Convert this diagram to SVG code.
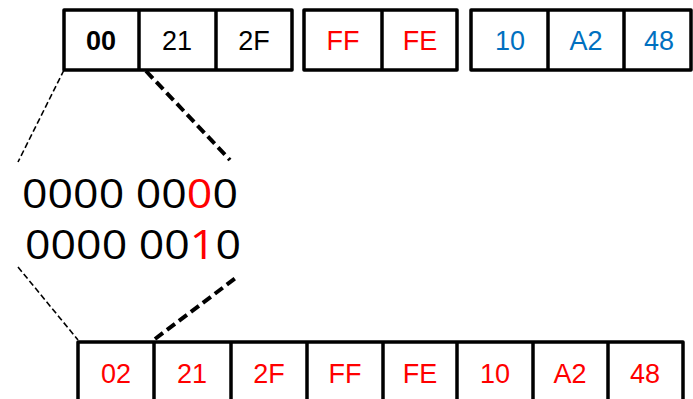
<svg xmlns="http://www.w3.org/2000/svg" width="693" height="399" viewBox="0 0 693 399">
<style>
.box{fill:#fff;stroke:#000;stroke-width:3.5;stroke-linejoin:round}
.div{stroke:#000;stroke-width:3.5}
.t{font-family:"Liberation Sans",Arial,sans-serif;font-size:27px;text-anchor:middle}
.k{fill:#000}.r{fill:#ff0000}.b{fill:#0070c0}
.bin{font-family:"Open Sans","Noto Sans",sans-serif;font-size:41px;fill:#000}
.thin{fill:none;stroke:#000;stroke-width:1.6;stroke-dasharray:6 3}
.thick{fill:none;stroke:#000;stroke-width:4;stroke-dasharray:10 5}
</style>
<rect width="693" height="399" fill="#fff"/>
<g id="connectors">
<line class="thin" x1="64" y1="70" x2="18" y2="162"/>
<line class="thick" x1="146" y1="71" x2="230" y2="160"/>
<line class="thin" x1="18" y1="267" x2="78" y2="340"/>
<line class="thick" x1="155" y1="339" x2="237" y2="277"/>
</g>
<g id="top-group-1">
<rect class="box" x="64" y="10" width="228" height="60"/>
<line class="div" x1="139" y1="10" x2="139" y2="70"/>
<line class="div" x1="216" y1="10" x2="216" y2="70"/>
<text class="t k" x="101" y="50" font-weight="bold">00</text>
<text class="t k" x="177" y="50">21</text>
<text class="t k" x="254" y="50">2F</text>
</g>
<g id="top-group-2">
<rect class="box" x="304" y="10" width="153" height="60"/>
<line class="div" x1="382" y1="10" x2="382" y2="70"/>
<text class="t r" x="343" y="50">FF</text>
<text class="t r" x="420" y="50">FE</text>
</g>
<g id="top-group-3">
<rect class="box" x="471" y="10" width="220" height="60"/>
<line class="div" x1="548" y1="10" x2="548" y2="70"/>
<line class="div" x1="624" y1="10" x2="624" y2="70"/>
<text class="t b" x="510" y="50">10</text>
<text class="t b" x="586" y="50">A2</text>
<text class="t b" x="659" y="50">48</text>
</g>
<g id="binary">
<text class="bin" x="22" y="208" textLength="216" lengthAdjust="spacingAndGlyphs">0000 00<tspan fill="#ff0000">0</tspan>0</text>
<text class="bin" x="25" y="259" textLength="216" lengthAdjust="spacingAndGlyphs">0000 00<tspan fill="#ff0000">1</tspan>0</text>
</g>
<g id="bottom-row">
<rect class="box" x="78" y="342" width="605" height="70"/>
<line class="div" x1="154" y1="342" x2="154" y2="412"/>
<line class="div" x1="231" y1="342" x2="231" y2="412"/>
<line class="div" x1="307" y1="342" x2="307" y2="412"/>
<line class="div" x1="383" y1="342" x2="383" y2="412"/>
<line class="div" x1="457" y1="342" x2="457" y2="412"/>
<line class="div" x1="533" y1="342" x2="533" y2="412"/>
<line class="div" x1="608" y1="342" x2="608" y2="412"/>
<text class="t r" x="116" y="383">02</text>
<text class="t r" x="192" y="383">21</text>
<text class="t r" x="269" y="383">2F</text>
<text class="t r" x="345" y="383">FF</text>
<text class="t r" x="420" y="383">FE</text>
<text class="t r" x="495" y="383">10</text>
<text class="t r" x="570" y="383">A2</text>
<text class="t r" x="645" y="383">48</text>
</g>
</svg>
